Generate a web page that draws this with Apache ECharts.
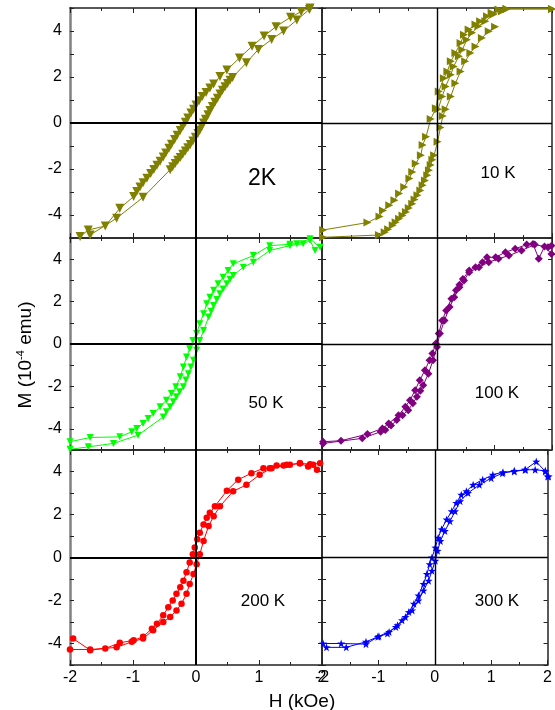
<!DOCTYPE html>
<html>
<head>
<meta charset="utf-8">
<script src="https://cdn.jsdelivr.net/npm/echarts@6/dist/echarts.min.js"></script>
<style>html,body{margin:0;padding:0;background:#fff}#main{width:555px;height:710px}</style>
</head>
<body>
<div id="main"></div>
<script>
// H (kOe), M (10^-4 emu) pairs
var k2Down = [[1.81,5.0],[1.67,4.84],[1.5,4.6],[1.27,4.19],[1.08,3.78],[0.89,3.34],[0.69,2.83],[0.49,2.30],[0.38,2.02],[0.28,1.70],[0.22,1.52],[0.16,1.33],[0.1,1.15],[0.05,0.97],[0.0,0.78],[-0.04,0.6],[-0.08,0.43],[-0.13,0.22],[-0.17,0.03],[-0.21,-0.15],[-0.25,-0.33],[-0.3,-0.53],[-0.34,-0.72],[-0.39,-0.92],[-0.43,-1.1],[-0.48,-1.3],[-0.52,-1.48],[-0.57,-1.66],[-0.62,-1.84],[-0.67,-2.02],[-0.72,-2.2],[-0.78,-2.4],[-0.84,-2.6],[-0.89,-2.78],[-0.94,-2.98],[-0.99,-3.2],[-1.21,-3.71],[-1.44,-4.48],[-1.71,-4.65],[-1.84,-4.94]];
var k2Up = [[-1.68,-4.87],[-1.26,-4.14],[-0.84,-3.23],[-0.41,-2.03],[-0.37,-1.9],[-0.33,-1.76],[-0.29,-1.62],[-0.25,-1.5],[-0.21,-1.36],[-0.17,-1.22],[-0.13,-1.08],[-0.09,-0.93],[-0.05,-0.78],[-0.01,-0.62],[0.03,-0.46],[0.06,-0.32],[0.09,-0.16],[0.12,0.0],[0.15,0.16],[0.19,0.36],[0.22,0.54],[0.26,0.72],[0.3,0.9],[0.34,1.08],[0.38,1.26],[0.42,1.42],[0.46,1.58],[0.5,1.72],[0.54,1.86],[0.58,1.98],[0.8,2.62],[0.99,3.2],[1.2,3.63],[1.39,4.0],[1.6,4.48],[1.8,4.94]];

var k10Virgin = [[0.02,0.6],[0.09,1.15],[0.15,1.59],[0.24,2.1],[0.29,2.46],[0.38,2.9],[0.44,3.19],[0.52,3.62],[0.61,3.92],[0.72,4.21],[0.84,4.42],[0.98,4.72],[1.13,4.86],[1.21,4.96],[2.0,4.96]];
var k10Down = [[2.0,4.96],[1.21,4.96],[1.07,4.93],[0.95,4.79],[0.87,4.64],[0.75,4.42],[0.67,4.28],[0.55,4.06],[0.47,3.84],[0.41,3.48],[0.32,3.04],[0.24,2.68],[0.18,2.24],[0.12,1.95],[0.03,1.37],[-0.02,0.64],[-0.11,0.17],[-0.19,-0.6],[-0.25,-0.96],[-0.28,-1.4],[-0.37,-1.76],[-0.43,-2.13],[-0.48,-2.41],[-0.57,-2.78],[-0.66,-3.07],[-0.74,-3.36],[-0.83,-3.58],[-0.94,-3.8],[-1.0,-4.07],[-1.21,-4.33],[-1.98,-4.65]];
var k10Up = [[-1.98,-4.97],[-1.01,-4.87],[-0.91,-4.75],[-0.85,-4.62],[-0.77,-4.45],[-0.72,-4.32],[-0.66,-4.16],[-0.6,-4.02],[-0.54,-3.87],[-0.49,-3.7],[-0.43,-3.51],[-0.39,-3.33],[-0.34,-3.14],[-0.29,-2.93],[-0.25,-2.71],[-0.21,-2.5],[-0.17,-2.27],[-0.14,-2.05],[-0.11,-1.83],[-0.08,-1.6],[-0.05,-1.4],[0.01,-0.82],[0.06,-0.2],[0.1,0.3],[0.15,0.6],[0.24,1.15],[0.32,1.73],[0.41,2.24],[0.49,2.68],[0.58,3.04],[0.67,3.33],[0.78,3.7],[0.9,3.99],[1.01,4.18]];

var k50Down = [[1.97,4.56],[1.81,4.96],[1.6,4.73],[1.49,4.7],[1.17,4.64],[0.91,4.17],[0.59,3.78],[0.51,3.47],[0.43,3.15],[0.35,2.84],[0.28,2.53],[0.22,2.21],[0.17,1.9],[0.12,1.43],[0.06,0.96],[0.01,0.49],[-0.05,0.17],[-0.1,-0.22],[-0.15,-0.61],[-0.2,-1.08],[-0.25,-1.55],[-0.32,-2.02],[-0.39,-2.34],[-0.47,-2.65],[-0.57,-2.96],[-0.68,-3.28],[-0.76,-3.51],[-0.84,-3.75],[-0.94,-3.98],[-1.02,-4.14],[-1.21,-4.38],[-1.68,-4.41],[-2.0,-4.61]];
var k50Up = [[-2.0,-4.97],[-1.71,-4.85],[-1.31,-4.69],[-0.92,-4.3],[-0.52,-3.44],[-0.47,-3.2],[-0.41,-2.96],[-0.36,-2.72],[-0.31,-2.49],[-0.26,-2.25],[-0.2,-2.02],[-0.16,-1.7],[-0.12,-1.4],[-0.08,-1.08],[-0.04,-0.77],[0.01,-0.3],[0.06,0.17],[0.12,0.64],[0.2,1.27],[0.24,1.55],[0.28,1.82],[0.33,2.1],[0.38,2.37],[0.43,2.6],[0.49,2.84],[0.54,3.05],[0.59,3.23],[0.75,3.62],[0.91,3.86],[1.17,4.41],[1.49,4.64],[1.7,4.73],[1.81,4.88],[1.89,4.41]];

var k100Down = [[1.99,4.25],[1.87,4.6],[1.77,4.02],[1.67,4.72],[1.56,4.69],[1.36,4.49],[1.19,4.33],[1.02,4.09],[0.87,4.09],[0.79,3.86],[0.67,3.62],[0.56,3.47],[0.45,3.07],[0.39,2.8],[0.33,2.53],[0.25,2.13],[0.16,1.58],[0.09,1.11],[0.03,0.49],[-0.02,0.02],[-0.08,-0.45],[-0.13,-0.77],[-0.21,-1.24],[-0.3,-1.71],[-0.38,-2.18],[-0.47,-2.65],[-0.55,-2.96],[-0.67,-3.36],[-0.84,-3.75],[-0.95,-3.98],[-1.21,-4.25],[-1.67,-4.56],[-1.98,-4.61]];
var k100Up = [[-1.98,-4.69],[-1.3,-4.45],[-0.98,-4.14],[-0.9,-4.06],[-0.8,-3.85],[-0.7,-3.59],[-0.6,-3.36],[-0.5,-3.12],[-0.42,-2.8],[-0.35,-2.49],[-0.29,-2.2],[-0.24,-1.95],[-0.15,-1.4],[-0.07,-0.77],[0.0,-0.14],[0.05,0.49],[0.13,1.11],[0.22,1.74],[0.3,2.2],[0.39,2.68],[0.47,3.0],[0.56,3.39],[0.73,3.62],[0.9,3.86],[1.07,4.02],[1.25,4.17],[1.47,4.41],[1.7,4.69],[1.93,4.56],[1.99,4.64]];

var k200Down = [[1.92,4.08],[1.86,4.31],[1.78,4.23],[1.65,4.38],[1.49,4.31],[1.39,4.28],[1.28,4.28],[1.17,4.15],[1.07,4.15],[0.88,3.92],[0.67,3.62],[0.49,3.11],[0.3,2.38],[0.22,2.08],[0.17,1.85],[0.12,1.54],[0.06,1.15],[0.02,0.85],[-0.02,0.46],[-0.05,0.15],[-0.1,-0.23],[-0.15,-0.69],[-0.2,-1.08],[-0.25,-1.38],[-0.31,-1.69],[-0.37,-2.0],[-0.44,-2.31],[-0.52,-2.69],[-0.62,-3.08],[-0.7,-3.31],[-0.84,-3.69],[-0.99,-3.85],[-1.21,-3.97],[-1.44,-4.23],[-1.68,-4.31],[-1.95,-3.77]];
var k200Up = [[-2.0,-4.28],[-1.68,-4.28],[-1.26,-4.18],[-1.02,-3.92],[-0.84,-3.77],[-0.68,-3.38],[-0.52,-3.0],[-0.41,-2.77],[-0.31,-2.46],[-0.23,-2.15],[-0.15,-1.69],[-0.1,-1.23],[-0.04,-0.77],[0.01,-0.31],[0.06,0.15],[0.12,0.77],[0.2,1.46],[0.28,1.92],[0.38,2.38],[0.59,3.08],[0.8,3.38],[1.01,3.85],[1.2,4.15],[1.44,4.31],[1.65,4.38],[1.81,4.34],[1.97,4.38]];

var k300Down = [[2.0,3.77],[1.96,4.0],[1.8,4.46],[1.6,4.08],[1.41,4.0],[1.21,3.97],[1.03,3.85],[0.85,3.62],[0.68,3.38],[0.56,3.08],[0.47,2.92],[0.38,2.54],[0.3,2.15],[0.21,1.77],[0.12,1.31],[0.06,0.92],[0.01,0.46],[-0.05,0.0],[-0.09,-0.31],[-0.14,-0.77],[-0.2,-1.23],[-0.29,-1.77],[-0.37,-2.15],[-0.46,-2.54],[-0.58,-2.92],[-0.69,-3.23],[-0.84,-3.54],[-1.01,-3.69],[-1.22,-3.92],[-1.57,-4.18],[-1.92,-4.18]];
var k300Up = [[-1.98,-4.0],[-1.66,-4.0],[-1.22,-4.03],[-0.99,-3.66],[-0.81,-3.46],[-0.66,-3.15],[-0.52,-2.77],[-0.4,-2.46],[-0.29,-2.0],[-0.2,-1.54],[-0.11,-1.08],[-0.05,-0.62],[0.01,-0.15],[0.05,0.31],[0.1,0.77],[0.18,1.23],[0.27,1.69],[0.36,2.15],[0.45,2.62],[0.59,3.0],[0.79,3.38],[1.0,3.69],[1.2,3.92],[1.41,4.03],[1.61,4.08],[1.78,4.08],[1.96,4.03],[2.02,3.77]];

var xTicks = [-2, -1, 0, 1, 2];
var yTicks = [-4, -2, 0, 2, 4];

var star = 'path://M0,-10L2.35,-3.24L9.51,-3.09L3.8,1.24L5.88,8.09L0,4L-5.88,8.09L-3.8,1.24L-9.51,-3.09L-2.35,-3.24Z';

var panels = [
    {label: '2K',    lx: 262, ly: 179, fs: 23, color: '#808000', symbol: 'triangle', rot: 180, size: 9, loops: [k2Down, k2Up]},
    {label: '10 K',  lx: 498, ly: 173, fs: 17, color: '#808000', symbol: 'triangle', rot: -90, size: 8, loops: [k10Virgin, k10Down, k10Up]},
    {label: '50 K',  lx: 266, ly: 403, fs: 17, color: '#00ff00', symbol: 'triangle', rot: 180, size: 7, loops: [k50Down, k50Up]},
    {label: '100 K', lx: 497, ly: 393, fs: 17, color: '#800080', symbol: 'diamond',  rot: 0,   size: 8, loops: [k100Down, k100Up]},
    {label: '200 K', lx: 263, ly: 601, fs: 17, color: '#ff0000', symbol: 'circle',   rot: 0,   size: 6.5, loops: [k200Down, k200Up]},
    {label: '300 K', lx: 497, ly: 601, fs: 17, color: '#0000ff', symbol: star,       rot: 0,   size: 8, loops: [k300Down, k300Up]}
];

// grid boxes
var grids = [
    {left: 70,  top: 8,   width: 252, height: 230},
    {left: 322, top: 8,   width: 230, height: 230},
    {left: 70,  top: 238, width: 252, height: 212},
    {left: 322, top: 238, width: 230, height: 212},
    {left: 70,  top: 450, width: 252, height: 215},
    {left: 322, top: 450, width: 230, height: 215}
];

var font = 'Liberation Sans';
var frame = {show: true, onZero: false, lineStyle: {color: '#222', width: 1.5}};
var frameOuter = {show: true, onZero: false, lineStyle: {color: '#808080', width: 2.5}};

var xAxes = [], yAxes = [], series = [], graphics = [];
grids.forEach(function (g, i) {
    var left = (i % 2 === 0), bottom = (i >= 4);
    ['bottom', 'top'].forEach(function (pos) {
        xAxes.push({
            type: 'value', gridIndex: i, position: pos, min: -2, max: 2, interval: 1,
            axisLine: frame,
            axisTick: {show: true, inside: true, length: 5, lineStyle: {color: '#222'}},
            minorTick: {show: true, splitNumber: 2, length: 3, lineStyle: {color: '#222'}},
            splitLine: {show: false},
            axisLabel: {show: bottom && pos === 'bottom', fontSize: 16, color: '#000', fontFamily: font, margin: 5}
        });
    });
    ['left', 'right'].forEach(function (pos) {
        yAxes.push({
            type: 'value', gridIndex: i, position: pos, min: -5, max: 5, interval: 1,
            axisLine: (left && pos === 'left') ? frameOuter : frame,
            axisTick: {show: true, inside: true, length: 4, lineStyle: {color: '#222'}},
            splitLine: {show: false},
            axisLabel: {show: left && pos === 'left', fontSize: 16, color: '#000', fontFamily: font, margin: 8,
                formatter: function (v) { return yTicks.indexOf(v) >= 0 ? String(v) : ''; }}
        });
    });

    var p = panels[i];
    // the H=0 / M=0 cross
    series.push({
        type: 'line', xAxisIndex: 2 * i, yAxisIndex: 2 * i, data: [], z: 1,
        markLine: {
            silent: true, symbol: ['none', 'none'], label: {show: false}, animation: false,
            lineStyle: {color: '#000', width: left ? 2 : 1.4, type: 'solid'},
            data: [{xAxis: 0}, {yAxis: 0}]
        }
    });
    p.loops.forEach(function (d) {
        series.push({
            type: 'line', xAxisIndex: 2 * i, yAxisIndex: 2 * i, data: d, z: 2,
            symbol: p.symbol, symbolSize: p.size, symbolRotate: p.rot, showAllSymbol: true, clip: false,
            itemStyle: {color: p.color}, lineStyle: {color: p.color, width: 1}
        });
    });
    graphics.push({
        type: 'text', x: p.lx, y: p.ly,
        style: {text: p.label, fontSize: p.fs, fontFamily: font, fill: '#000', textAlign: 'center', textVerticalAlign: 'middle'}
    });
});

graphics.push({
    type: 'text', x: 302, y: 702,
    style: {text: 'H (kOe)', fontSize: 19, fontFamily: font, fill: '#000', textAlign: 'center', textVerticalAlign: 'middle'}
});
graphics.push({
    type: 'text', x: 26, y: 355, rotation: Math.PI / 2,
    style: {
        text: 'M (10{s|-4} emu)', fontSize: 19, fontFamily: font, fill: '#000',
        textAlign: 'center', textVerticalAlign: 'middle',
        rich: {s: {fontSize: 11, fontFamily: font, fill: '#000', verticalAlign: 'top', padding: [0, 0, 10, 0]}}
    }
});

var chart = echarts.init(document.getElementById('main'));
chart.setOption({
    animation: false,
    backgroundColor: '#fff',
    grid: grids,
    xAxis: xAxes,
    yAxis: yAxes,
    series: series,
    graphic: graphics
});
</script>
</body>
</html>
